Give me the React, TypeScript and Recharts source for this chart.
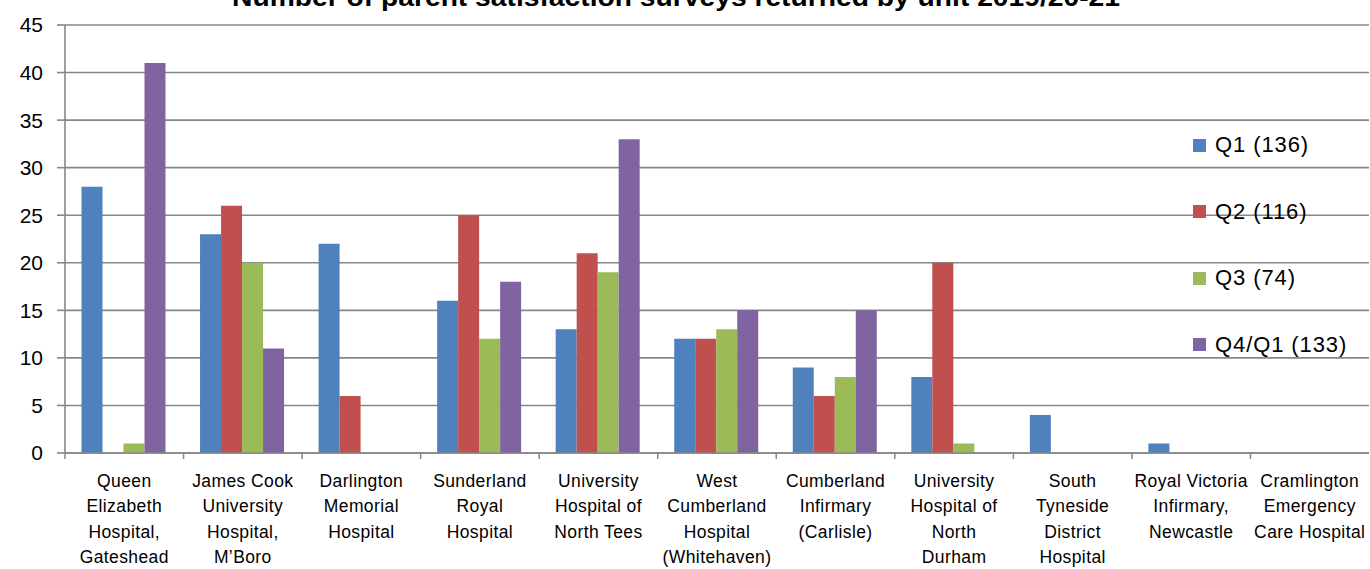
import React from 'react';
import { BarChart, Bar, XAxis, YAxis, CartesianGrid } from 'recharts';

// hospital units, lines split as on the original slide
const units = [
  'Queen\nElizabeth\nHospital,\nGateshead',
  'James Cook\nUniversity\nHospital,\nM\u2019Boro',
  'Darlington\nMemorial\nHospital',
  'Sunderland\nRoyal\nHospital',
  'University\nHospital of\nNorth Tees',
  'West\nCumberland\nHospital\n(Whitehaven)',
  'Cumberland\nInfirmary\n(Carlisle)',
  'University\nHospital of\nNorth\nDurham',
  'South\nTyneside\nDistrict\nHospital',
  'Royal Victoria\nInfirmary,\nNewcastle',
  'Cramlington\nEmergency\nCare Hospital',
];

const q1 = [28, 23, 22, 16, 13, 12, 9, 8, 4, 1, 0];
const q2 = [0, 26, 6, 25, 21, 12, 6, 20, 0, 0, 0];
const q3 = [1, 20, 0, 12, 19, 13, 8, 1, 0, 0, 0];
const q4 = [41, 11, 0, 18, 33, 15, 15, 0, 0, 0, 0];

const seriesKeys = ['q1', 'q2', 'q3', 'q4'];
const seriesNames = ['Q1 (136)', 'Q2 (116)', 'Q3 (74)', 'Q4/Q1 (133)'];
const seriesColors = ['#4F81BD', '#C0504D', '#9BBB59', '#8064A2'];
const yTicks = [0, 5, 10, 15, 20, 25, 30, 35, 40, 45];

const title = 'Number of parent satisfaction surveys returned by unit 2019/20-21';

const data = units.map((unit, i) => ({
  unit,
  q1: q1[i],
  q2: q2[i],
  q3: q3[i],
  q4: q4[i],
}));

const FONT = '"Liberation Sans", Arial, sans-serif';
const GRID = '#878787';
const BAND = (1369 - 65) / units.length;

const UnitTick = (props: any) => {
  const { x, y, payload } = props;
  const lines = String(payload.value).split('\n');
  return (
    <g>
      <line x1={x - BAND / 2} x2={x - BAND / 2} y1={y} y2={y + 6} stroke={GRID} strokeWidth={1.5} />
      <text
        x={x}
        y={y}
        textAnchor="middle"
        fontFamily={FONT}
        fontSize={17.5}
        letterSpacing={0.4}
        fill="#000"
      >
        {lines.map((l, i) => (
          <tspan key={i} x={x} dy={i === 0 ? 34 : 25.3}>
            {l}
          </tspan>
        ))}
      </text>
    </g>
  );
};

// legend drawn by hand so it floats over the plot like the original
const ChartLegend = () => (
  <div style={{ position: 'absolute', left: 1193, top: 132 }}>
    {seriesNames.map((name, i) => (
      <div
        key={name}
        style={{
          display: 'flex',
          alignItems: 'center',
          height: 26,
          marginBottom: 40.5,
          fontFamily: FONT,
          fontSize: 22,
          letterSpacing: 0.9,
          color: '#000',
          whiteSpace: 'nowrap',
        }}
      >
        <span
          style={{
            display: 'inline-block',
            width: 13,
            height: 13,
            background: seriesColors[i],
            marginRight: 9,
          }}
        />
        {name}
      </div>
    ))}
  </div>
);

export default function App() {
  return (
    <div style={{ position: 'relative', width: 1370, height: 569, overflow: 'hidden', background: '#fff' }}>
      <style>{'body { margin: 0; }'}</style>
      <BarChart
        width={1370}
        height={569}
        data={data}
        margin={{ top: 25, right: 1, left: 0, bottom: 0 }}
        barCategoryGap={16.5}
        barGap={0}
      >
        <CartesianGrid vertical={false} stroke={GRID} strokeWidth={1.6} />
        <XAxis
          dataKey="unit"
          interval={0}
          height={116}
          tickLine={false}
          tickSize={0}
          tickMargin={0}
          axisLine={{ stroke: GRID, strokeWidth: 1.6 }}
          tick={<UnitTick />}
        />
        <YAxis
          domain={[0, 45]}
          ticks={yTicks}
          interval={0}
          width={65}
          tickSize={8}
          tickMargin={14}
          tick={{ fill: '#000', fontSize: 21, fontFamily: FONT }}
          tickLine={{ stroke: GRID, strokeWidth: 1.6 }}
          axisLine={{ stroke: GRID, strokeWidth: 1.6 }}
        />
        {seriesKeys.map((k, i) => (
          <Bar key={k} dataKey={k} name={seriesNames[i]} fill={seriesColors[i]} isAnimationActive={false} />
        ))}
      </BarChart>
      <ChartLegend />
      <svg
        width={1370}
        height={20}
        style={{ position: 'absolute', left: 0, top: 0, pointerEvents: 'none' }}
      >
        <text
          x={676}
          y={6}
          textAnchor="middle"
          fontFamily={FONT}
          fontWeight="bold"
          fontSize={25}
          textLength={888}
          lengthAdjust="spacingAndGlyphs"
          fill="#000"
        >
          {title}
        </text>
      </svg>
    </div>
  );
}
